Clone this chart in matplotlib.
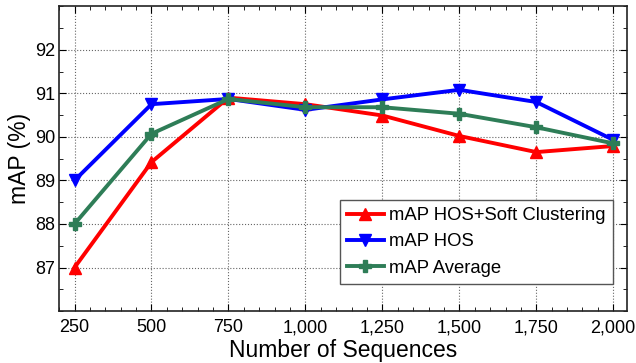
import matplotlib
matplotlib.use("Agg")
import matplotlib.pyplot as plt
from matplotlib.ticker import MultipleLocator, FuncFormatter

plt.rcParams['font.family'] = ['Liberation Sans', 'DejaVu Sans']

sequences = [250, 500, 750, 1000, 1250, 1500, 1750, 2000]
map_soft = [87.0, 89.42, 90.9, 90.75, 90.49, 90.02, 89.65, 89.79]
map_hos = [89.0, 90.75, 90.87, 90.62, 90.86, 91.08, 90.8, 89.93]
map_avg = [88.0, 90.07, 90.87, 90.68, 90.68, 90.53, 90.22, 89.85]

fig = plt.figure(figsize=(6.36, 3.63), dpi=100)
ax = fig.add_axes([0.093, 0.143, 0.893, 0.84])

ax.plot(sequences, map_soft, color='#ff0000', lw=2.8, marker='^', ms=9, label="mAP HOS+Soft Clustering")
ax.plot(sequences, map_hos, color='#0000ff', lw=2.8, marker='v', ms=9, label="mAP HOS")
ax.plot(sequences, map_avg, color='#2e7d57', lw=2.8, marker='P', ms=9, label="mAP Average")

ax.set_xlim(200, 2045)
ax.set_ylim(86, 93)
ax.set_xticks(sequences)
ax.xaxis.set_major_formatter(FuncFormatter(lambda v, p: f"{int(v):,}"))
ax.xaxis.set_minor_locator(MultipleLocator(50))
ax.set_yticks([87, 88, 89, 90, 91, 92])
ax.yaxis.set_minor_locator(MultipleLocator(0.5))
ax.tick_params(which='both', direction='in', top=True, right=True, labelsize=13)
ax.tick_params(axis='x', which='major', pad=6)
ax.tick_params(axis='y', which='major', pad=3)
ax.tick_params(which='major', length=5)
ax.tick_params(which='minor', length=3)
ax.grid(True, which='major', linestyle=':', color='#666666', lw=0.8)
for s in ax.spines.values():
    s.set_linewidth(1.2)
    s.set_color('#222222')

ax.set_xlabel("Number of Sequences", fontsize=16.5, labelpad=2)
ax.set_ylabel("mAP (%)", fontsize=16.5, labelpad=3)

leg = ax.legend(loc='lower right', bbox_to_anchor=(0.975, 0.089), borderaxespad=0,
                fontsize=13.3, fancybox=False, framealpha=1, edgecolor='#555555',
                handlelength=2.0, handletextpad=0.28, borderpad=0.4, labelspacing=0.5)

fig.savefig("out.png", dpi=100)
